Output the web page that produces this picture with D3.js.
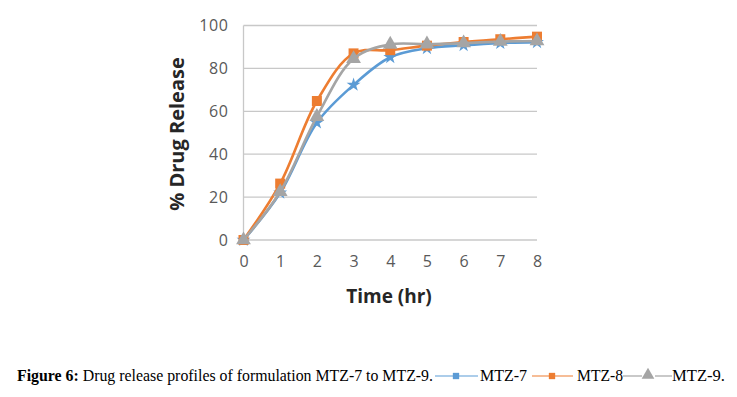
<!DOCTYPE html>
<html><head><meta charset="utf-8">
<script src="https://cdn.jsdelivr.net/npm/d3@7"></script>
<style>body{margin:0;background:#fff}svg{display:block}</style>
</head><body><svg id="c" width="737" height="397"></svg>
<script>
const times = [0,1,2,3,4,5,6,7,8];
const mtz7 = [0,22,54.7,72.3,85.2,89.4,90.8,91.8,92.2];
const mtz8 = [0,26.3,64.8,87,88.5,90.6,92.3,93.6,94.8];
const mtz9 = [0,22.5,57.5,84.5,91.2,91.3,91.8,92.5,92.8];
const yTicks = [0,20,40,60,80,100];
const seriesNames = ["MTZ-7","MTZ-8","MTZ-9"];
const colors = ["#5B9BD5","#ED7D31","#A5A5A5"];

const svg = d3.select("#c");
const x = d3.scaleLinear().domain([0,8]).range([243.5,537]);
const y = d3.scaleLinear().domain([0,100]).range([240,25.5]);
const tickFont = "'Open Sans', 'Liberation Sans', sans-serif";

// grid
svg.append("g").selectAll("line").data(yTicks).join("line")
  .attr("x1",x(0)).attr("x2",x(8)).attr("y1",d=>y(d)).attr("y2",d=>y(d))
  .attr("stroke","#c8c8c8").attr("stroke-width",1.3);
svg.append("line").attr("x1",x(0)).attr("x2",x(0)).attr("y1",y(100)).attr("y2",y(0))
  .attr("stroke","#c8c8c8").attr("stroke-width",1.3);

// y axis labels
const ya = svg.append("g").attr("transform",`translate(${x(0)-15},0)`)
  .call(d3.axisLeft(y).tickValues(yTicks).tickSize(0).tickPadding(0));
ya.select(".domain").remove();
ya.selectAll("text").attr("font-family",tickFont).attr("font-size",16).attr("fill","#595959")
  .attr("letter-spacing",0.6);

// x axis labels
const xa = svg.append("g").attr("transform",`translate(0,${y(0)+16})`)
  .call(d3.axisBottom(x).tickValues(times).tickFormat(d3.format("d")).tickSize(0).tickPadding(0));
xa.select(".domain").remove();
xa.selectAll("text").attr("font-family",tickFont).attr("font-size",16).attr("fill","#595959");

// titles
svg.append("text").attr("x",389).attr("y",303).attr("text-anchor","middle")
  .attr("font-family",tickFont).attr("font-weight","bold").attr("font-size",19).attr("fill","#262626")
  .text("Time (hr)");
svg.append("text").attr("transform","translate(184,134) rotate(-90)").attr("text-anchor","middle")
  .attr("font-family",tickFont).attr("font-weight","bold").attr("font-size",20).attr("fill","#262626")
  .text("% Drug Release");

const all = [mtz7,mtz8,mtz9];
const line = d3.line().x((d,i)=>x(times[i])).y(d=>y(d)).curve(d3.curveCatmullRom.alpha(0.5));
const symbols = [d3.symbolStar, d3.symbolSquare, d3.symbolTriangle];
const sizes = [60, 100, 95];
all.forEach((vals,k)=>{
  const g = svg.append("g");
  g.append("path").datum(vals).attr("d",line).attr("fill","none")
    .attr("stroke",colors[k]).attr("stroke-width",2.6);
  g.selectAll("path.m").data(vals).join("path").attr("class","m")
    .attr("transform",(d,i)=>`translate(${x(times[i])},${y(d)})`)
    .attr("d",d3.symbol().type(symbols[k]).size(sizes[k]))
    .attr("fill",colors[k]);
});

// caption
const cap = svg.append("g").attr("font-family","'Liberation Serif','Times New Roman',serif").attr("font-size",16).attr("fill","#000");
const t1 = cap.append("text").attr("x",17).attr("y",381);
t1.append("tspan").attr("font-weight","bold").text("Figure 6:");
t1.append("tspan").text(" Drug release profiles of formulation MTZ-7 to MTZ-9.");
t1.attr("textLength",416).attr("lengthAdjust","spacingAndGlyphs");
const legItems = [
  {lx1:435,lx2:478,mx:456,tx:480,tw:47,label:"MTZ-7"},
  {lx1:532,lx2:573,mx:552,tx:577,tw:46,label:"MTZ-8"},
  {lx1:623,lx2:672,mx:648,tx:672,tw:53,label:"MTZ-9."}
];
legItems.forEach((it,k)=>{
  if(k<2){
    cap.append("line").attr("x1",it.lx1).attr("x2",it.lx2).attr("y1",376).attr("y2",376)
      .attr("stroke",colors[k]).attr("stroke-width",1.2);
  } else {
    cap.append("line").attr("x1",it.lx1).attr("x2",642).attr("y1",376).attr("y2",376).attr("stroke",colors[k]).attr("stroke-width",1.2);
    cap.append("line").attr("x1",655).attr("x2",it.lx2).attr("y1",376).attr("y2",376).attr("stroke",colors[k]).attr("stroke-width",1.2);
  }
  cap.append("path").attr("transform",`translate(${it.mx},${k==2?375:376})`)
    .attr("d",d3.symbol().type(k==2?d3.symbolTriangle:d3.symbolSquare).size(k==2?70:40))
    .attr("fill",colors[k]);
  cap.append("text").attr("x",it.tx).attr("y",381).attr("textLength",it.tw).attr("lengthAdjust","spacingAndGlyphs").text(it.label);
});
</script></body></html>
